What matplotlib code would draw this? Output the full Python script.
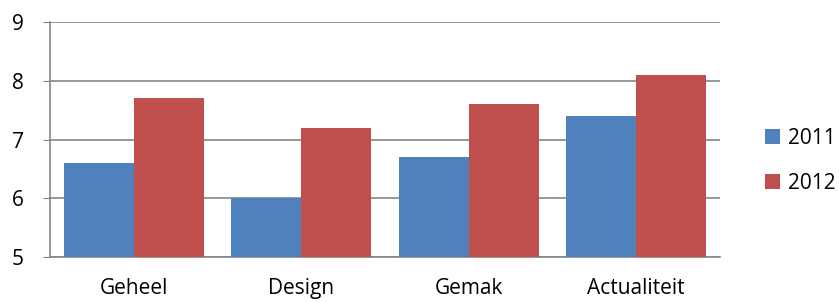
import matplotlib
matplotlib.use("Agg")
import matplotlib.pyplot as plt
import numpy as np

# Data
categorieen = ["Geheel", "Design", "Gemak", "Actualiteit"]
jaren = ["2011", "2012"]
waarden_2011 = [6.6, 6.0, 6.7, 7.4]
waarden_2012 = [7.7, 7.2, 7.6, 8.1]
kleuren = ["#4F81BD", "#C0504D"]

plt.rcParams["font.family"] = ["Open Sans", "DejaVu Sans"]

fig = plt.figure(figsize=(8.39, 3.02), dpi=100)
ax = fig.add_axes([0.0596, 0.149, 0.7985, 0.778])

x = np.arange(len(categorieen))
breedte = 0.418
ax.bar(x - breedte / 2, waarden_2011, breedte, color=kleuren[0], label=jaren[0], zorder=3)
ax.bar(x + breedte / 2, waarden_2012, breedte, color=kleuren[1], label=jaren[1], zorder=3)

ax.set_xlim(-0.5, len(categorieen) - 0.5)
ax.set_ylim(5, 9)
ax.set_yticks([5, 6, 7, 8, 9])
ax.set_xticks(x)
ax.set_xticklabels(categorieen)
ax.tick_params(axis="x", length=0, pad=15, labelsize=15)
ax.tick_params(axis="y", length=5, color="#868686", pad=14, labelsize=15)
ax.yaxis.grid(True, color="#868686", linewidth=1.2, zorder=0)

for s in ["top", "right"]:
    ax.spines[s].set_visible(False)
for s in ["left", "bottom"]:
    ax.spines[s].set_color("#868686")
    ax.spines[s].set_linewidth(1.2)

ax.legend(loc="center left", bbox_to_anchor=(1.04, 0.41), frameon=False,
          fontsize=15, handlelength=0.7, handleheight=0.7, handletextpad=0.4,
          labelspacing=1.15)

plt.savefig("out.png", dpi=100)
